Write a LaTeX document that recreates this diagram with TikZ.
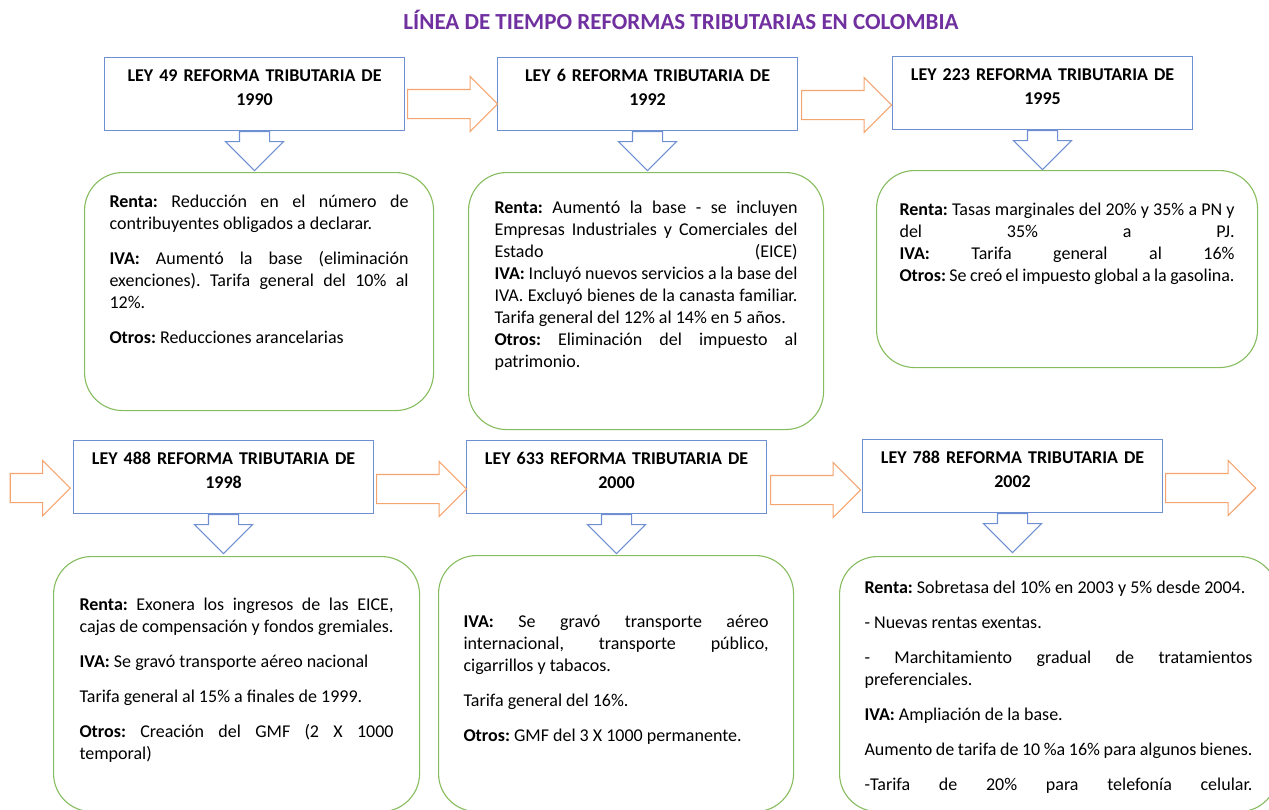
\documentclass[tikz,border=0pt]{standalone}
\usepackage{fontspec}
\setmainfont{Carlito}
\usetikzlibrary{shapes.arrows,calc}
\definecolor{leyblue}{HTML}{6E8FD2}
\definecolor{infogreen}{HTML}{86BC5E}
\definecolor{sigorange}{HTML}{F4A46E}
\definecolor{titlepurple}{HTML}{7030A0}
\frenchspacing
\tolerance=10000
\hbadness=10000
\hyphenpenalty=10000
\newcommand{\sigpar}{\par\vspace{13pt}}
\tikzset{
  titulo/.style={text=titlepurple, font=\bfseries\fontsize{23}{28}\selectfont, inner sep=0pt, anchor=base},
  ley/.style={draw=leyblue, line width=1.1pt, text width=280pt, inner xsep=10pt, inner ysep=0pt, align=center, font=\bfseries\fontsize{18}{24}\selectfont, text height=24pt, text depth=49pt, anchor=north west},
  info/.style={draw=infogreen, line width=1.1pt, rounded corners=38pt, align=justify, inner ysep=0pt, inner xsep=25pt, font=\fontsize{18}{22}\selectfont, anchor=north west},
  sig/.style={single arrow, draw=sigorange, line width=1.1pt, inner xsep=0pt, inner ysep=14pt, single arrow head extend=13pt, minimum height=90pt},
  baja/.style={single arrow, draw=leyblue, line width=1.1pt, inner xsep=0pt, inner ysep=14.5pt, single arrow head extend=14pt, minimum height=39pt, rotate=-90, anchor=tail}
}
\begin{document}
\begin{tikzpicture}[x=1pt,y=-1pt]
\useasboundingbox (0,0) rectangle (1269,809);
\node[titulo] (titulo) at (681,29.5) {LÍNEA DE TIEMPO REFORMAS TRIBUTARIAS EN COLOMBIA};
\node[ley] (ley49) at (104,57) {LEY 49 REFORMA TRIBUTARIA DE\\1990};
\node[ley] (ley6) at (497,57) {LEY 6 REFORMA TRIBUTARIA DE\\1992};
\node[ley] (ley223) at (892,56) {LEY 223 REFORMA TRIBUTARIA DE\\1995};
\node[ley] (ley488) at (73,440) {LEY 488 REFORMA TRIBUTARIA DE\\1998};
\node[ley] (ley633) at (466,440) {LEY 633 REFORMA TRIBUTARIA DE\\2000};
\node[ley] (ley788) at (862,439) {LEY 788 REFORMA TRIBUTARIA DE\\2002};
\node[sig, anchor=tail] (sig1) at ($(ley49.east)+(2,10)$) {};
\node[sig, anchor=tail] (sig2) at ($(ley6.east)+(3,11)$) {};
\node[sig, minimum height=60pt, anchor=tip] (sig3) at ($(ley488.west)+(-2,11)$) {};
\node[sig, anchor=tail] (sig4) at ($(ley488.east)+(2,12)$) {};
\node[sig, anchor=tail] (sig5) at ($(ley633.east)+(3,13)$) {};
\node[sig, anchor=tail] (sig6) at ($(ley788.east)+(2,12)$) {};
\node[baja] (baja49) at (ley49.south) {};
\node[baja] (baja6) at (ley6.south) {};
\node[baja] (baja223) at (ley223.south) {};
\node[baja] (baja488) at (ley488.south) {};
\node[baja] (baja633) at (ley633.south) {};
\node[baja] (baja788) at (ley788.south) {};
\node[info, text width=299pt, text height=35pt, text depth=203pt] (info49) at (84,172) {\textbf{Renta:} Reducción en el número de\linebreak contribuyentes obligados a declarar.\sigpar \textbf{IVA:} Aumentó la base (eliminación\linebreak exenciones). Tarifa general del 10\% al\linebreak 12\%.\sigpar \textbf{Otros:} Reducciones arancelarias};
\node[info, text width=303pt, inner xsep=26pt, text height=41pt, text depth=216pt] (info6) at (468,172) {\textbf{Renta:} Aumentó la base - se incluyen\linebreak Empresas Industriales y Comerciales del\linebreak Estado (EICE)\linebreak \textbf{IVA:} Incluyó nuevos servicios a la base del\linebreak IVA. Excluyó bienes de la canasta familiar.\linebreak Tarifa general del 12\% al 14\% en 5 años.\par \textbf{Otros:} Eliminación del impuesto al\linebreak patrimonio.};
\node[info, text width=335pt, inner xsep=23pt, text height=45pt, text depth=152pt] (info223) at (876,170) {\textbf{Renta:} Tasas marginales del 20\% y 35\% a PN y\linebreak del 35\% a PJ.\linebreak \textbf{IVA:} Tarifa general al 16\%\linebreak \textbf{Otros:} Se creó el impuesto global a la gasolina.};
\node[info, text width=314pt, inner xsep=26pt, text height=54pt, text depth=201pt] (info488) at (53,556) {\textbf{Renta:} Exonera los ingresos de las EICE,\linebreak cajas de compensación y fondos gremiales.\sigpar \textbf{IVA:} Se gravó transporte aéreo nacional\sigpar Tarifa general al 15\% a finales de 1999.\sigpar \textbf{Otros:} Creación del GMF (2 X 1000\linebreak temporal)};
\node[info, text width=305pt, text height=72pt, text depth=184pt] (info633) at (438,555) {\textbf{IVA:} Se gravó transporte aéreo\linebreak internacional, transporte público,\linebreak cigarrillos y tabacos.\sigpar Tarifa general del 16\%.\sigpar \textbf{Otros:} GMF del 3 X 1000 permanente.};
\node[info, text width=388pt, text height=37pt, text depth=218pt] (info788) at (839,556) {\textbf{Renta:} Sobretasa del 10\% en 2003 y 5\% desde 2004.\sigpar - Nuevas rentas exentas.\sigpar - Marchitamiento gradual de tratamientos\linebreak preferenciales.\sigpar \textbf{IVA:} Ampliación de la base.\sigpar Aumento de tarifa de 10 \%a 16\% para algunos bienes.\sigpar {\parfillskip=0pt -Tarifa de 20\% para telefonía celular.\par}};
\end{tikzpicture}
\end{document}
